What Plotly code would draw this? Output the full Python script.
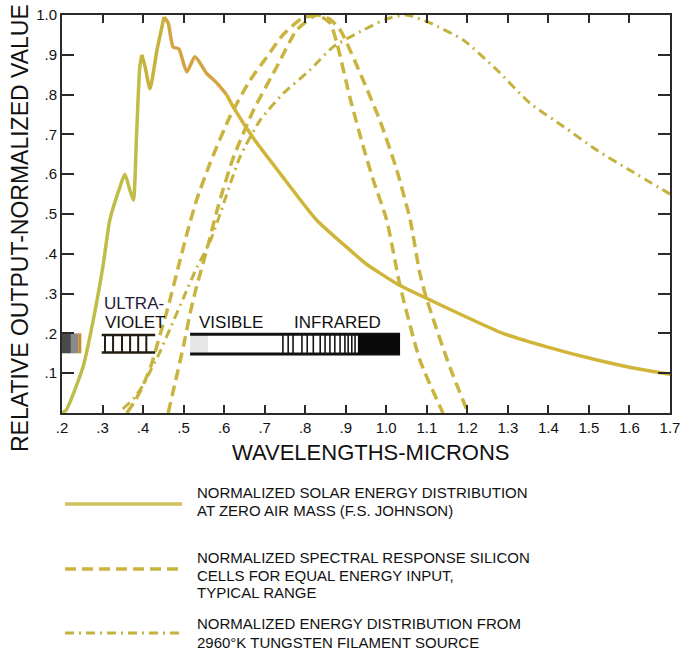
import plotly.graph_objects as go

# ---------------- data ----------------
solar_x = [0.2, 0.21, 0.252, 0.277, 0.302, 0.318, 0.343, 0.355, 0.366, 0.376, 0.384, 0.392, 0.397,
           0.405, 0.417, 0.434, 0.452, 0.462, 0.474, 0.488, 0.508, 0.528, 0.557, 0.581, 0.606,
           0.622, 0.676, 0.738, 0.828, 0.911, 0.95, 1.026, 1.083, 1.2, 1.288, 1.396, 1.52, 1.6, 1.7]
solar_y = [0.0, 0.007, 0.116, 0.233, 0.375, 0.485, 0.568, 0.60, 0.565, 0.535, 0.70, 0.87, 0.90,
           0.87, 0.815, 0.91, 0.995, 0.98, 0.92, 0.915, 0.857, 0.895, 0.853, 0.83, 0.80,
           0.77, 0.685, 0.602, 0.485, 0.409, 0.375, 0.325, 0.296, 0.24, 0.20, 0.166, 0.133, 0.115, 0.097]

siA_x = [0.36, 0.38, 0.40, 0.42, 0.44, 0.46, 0.487, 0.508, 0.532, 0.565, 0.614, 0.664, 0.705,
         0.745, 0.79, 0.83, 0.861, 0.878, 0.911, 0.943, 0.968, 1.001, 1.034, 1.083, 1.14]
siA_y = [0.0, 0.03, 0.07, 0.12, 0.19, 0.26, 0.367, 0.45, 0.535, 0.627, 0.744, 0.836, 0.894,
         0.95, 0.99, 1.0, 0.98, 0.93, 0.79, 0.67, 0.585, 0.485, 0.32, 0.133, 0.0]

siB_x = [0.462, 0.48, 0.50, 0.516, 0.53, 0.548, 0.565, 0.58, 0.597, 0.622, 0.672, 0.73, 0.779,
         0.828, 0.86, 0.886, 0.943, 0.985, 1.026, 1.059, 1.083, 1.1, 1.157, 1.202]
siB_y = [0.0, 0.08, 0.17, 0.25, 0.31, 0.376, 0.44, 0.50, 0.56, 0.64, 0.76, 0.87, 0.962,
         1.0, 0.99, 0.963, 0.836, 0.733, 0.61, 0.485, 0.35, 0.285, 0.115, 0.0]

tung_x = [0.35, 0.38, 0.40, 0.42, 0.44, 0.47, 0.50, 0.53, 0.565, 0.59, 0.639, 0.689, 0.746,
          0.812, 0.869, 0.943, 1.0, 1.05, 1.108, 1.19, 1.273, 1.355, 1.437, 1.52, 1.601, 1.7]
tung_y = [0.01, 0.04, 0.07, 0.11, 0.15, 0.22, 0.29, 0.36, 0.43, 0.50, 0.643, 0.736, 0.803,
          0.862, 0.92, 0.962, 0.99, 1.0, 0.98, 0.937, 0.862, 0.778, 0.72, 0.66, 0.61, 0.55]

x_tickvals = [0.2, 0.3, 0.4, 0.5, 0.6, 0.7, 0.8, 0.9, 1.0, 1.1, 1.2, 1.3, 1.4, 1.5, 1.6, 1.7]
x_ticktext = [".2", ".3", ".4", ".5", ".6", ".7", ".8", ".9", "1.0", "1.1", "1.2", "1.3",
              "1.4", "1.5", "1.6", "1.7"]
y_tickvals = [0.1, 0.2, 0.3, 0.4, 0.5, 0.6, 0.7, 0.8, 0.9, 1.0]
y_ticktext = [".1", ".2", ".3", ".4", ".5", ".6", ".7", ".8", ".9", "1.0"]

# spectrum band decoration (wavelength positions)
uv_bars = [0.306, 0.326, 0.348, 0.368, 0.388, 0.408]
ir_bars = [0.745, 0.758, 0.77, 0.792, 0.805, 0.82, 0.837, 0.849, 0.861, 0.873, 0.886,
           0.898, 0.906, 0.915, 0.923]

legend_lines = [
    ["NORMALIZED SOLAR ENERGY DISTRIBUTION", "AT ZERO AIR MASS (F.S. JOHNSON)"],
    ["NORMALIZED SPECTRAL RESPONSE SILICON", "CELLS FOR EQUAL ENERGY INPUT,", "TYPICAL RANGE"],
    ["NORMALIZED ENERGY DISTRIBUTION FROM", "2960\u00b0K TUNGSTEN FILAMENT SOURCE"],
]

# ---------------- figure ----------------
W, H = 682, 652
ML, MR, MT, MB = 62, 12, 15, 239
PW, PH = W - ML - MR, H - MT - MB


def px_x(p):
    return (p - ML) / PW


def px_y(p):
    return (H - MB - p) / PH


FONT = "Liberation Sans, Arial, sans-serif"
SOLAR_C = "#d0b53a"
SI_C = "#c9b440"
TUNG_C = "#c4b23e"
TXT_C = "#111111"

fig = go.Figure()
# solar curve drawn in colour-shifted pieces (as the printed original fades in hue)
solar_pieces = [(0, 13, "#bfbd48"), (12, 17, "#c8b23e"), (16, 25, "#d4a444"), (24, len(solar_x), SOLAR_C)]
for a, b, c in solar_pieces:
    fig.add_trace(go.Scatter(x=solar_x[a:b], y=solar_y[a:b], mode="lines",
                             line=dict(color=c, width=3.5, shape="spline", smoothing=0.6),
                             showlegend=False, hoverinfo="skip"))
fig.add_trace(go.Scatter(x=siA_x, y=siA_y, mode="lines",
                         line=dict(color=SI_C, width=3.5, dash="11px,6px", shape="spline", smoothing=0.6),
                         showlegend=False))
fig.add_trace(go.Scatter(x=siB_x, y=siB_y, mode="lines",
                         line=dict(color=SI_C, width=3.5, dash="11px,6px", shape="spline", smoothing=0.6),
                         showlegend=False))
fig.add_trace(go.Scatter(x=tung_x, y=tung_y, mode="lines",
                         line=dict(color=TUNG_C, width=3, dash="9px,5px,2px,5px", shape="spline", smoothing=0.6),
                         showlegend=False))

shapes = []
# left UV grey block
shapes.append(dict(type="rect", xref="x", yref="y", x0=0.2, x1=0.222, y0=0.15, y1=0.20,
                   fillcolor="#4a4a4a", line=dict(width=0), layer="below"))
shapes.append(dict(type="rect", xref="x", yref="y", x0=0.222, x1=0.241, y0=0.15, y1=0.20,
                   fillcolor="#8a8a8a", line=dict(width=0), layer="below"))
shapes.append(dict(type="line", xref="x", yref="y", x0=0.244, x1=0.244, y0=0.15, y1=0.20,
                   line=dict(color="#c8902a", width=3), layer="below"))
# UV ladder
for yy in (0.196, 0.152):
    shapes.append(dict(type="line", xref="x", yref="y", x0=0.298, x1=0.43, y0=yy, y1=yy,
                       line=dict(color="#221c12", width=2.5)))
for xb in uv_bars:
    shapes.append(dict(type="line", xref="x", yref="y", x0=xb, x1=xb, y0=0.152, y1=0.196,
                       line=dict(color="#221c12", width=2)))
# visible / infrared band
shapes.append(dict(type="rect", xref="x", yref="y", x0=0.516, x1=0.56, y0=0.148, y1=0.198,
                   fillcolor="#e6e6e6", line=dict(width=0), layer="below"))
for yy in (0.198, 0.148):
    shapes.append(dict(type="line", xref="x", yref="y", x0=0.516, x1=1.034, y0=yy, y1=yy,
                       line=dict(color="#111111", width=3)))
for xb in ir_bars:
    shapes.append(dict(type="line", xref="x", yref="y", x0=xb, x1=xb, y0=0.148, y1=0.198,
                       line=dict(color="#151515", width=1.6)))
shapes.append(dict(type="rect", xref="x", yref="y", x0=0.93, x1=1.034, y0=0.148, y1=0.198,
                   fillcolor="#0a0a0a", line=dict(width=0)))

# legend sample lines
leg_y = [504, 569, 633]
leg_styles = [dict(color="#d2c15a", width=3.5),
              dict(color=SI_C, width=3.5, dash="11px,6px"),
              dict(color=TUNG_C, width=3, dash="9px,5px,2px,5px")]
for yy, st in zip(leg_y, leg_styles):
    shapes.append(dict(type="line", xref="paper", yref="paper", x0=px_x(65), x1=px_x(182),
                       y0=px_y(yy), y1=px_y(yy), line=st))

annotations = []
# band labels
band_labels = [("ULTRA-", 0.378, 0.275, "#2a1a3a"), ("VIOLET", 0.38, 0.228, TXT_C),
               ("VISIBLE", 0.617, 0.228, TXT_C), ("INFRARED", 0.879, 0.228, TXT_C)]
for t, xx, yy, c in band_labels:
    annotations.append(dict(text=t, x=xx, y=yy, xref="x", yref="y", showarrow=False,
                            xanchor="center", yanchor="middle",
                            font=dict(family=FONT, size=17, color=c)))
# axis titles
annotations.append(dict(text="WAVELENGTHS-MICRONS", x=px_x(370), y=px_y(452), xref="paper",
                        yref="paper", showarrow=False, xanchor="center", yanchor="middle",
                        font=dict(family=FONT, size=22, color=TXT_C)))
annotations.append(dict(text="RELATIVE OUTPUT-NORMALIZED VALUE", x=px_x(20), y=px_y(228),
                        xref="paper", yref="paper", showarrow=False, textangle=-90,
                        xanchor="center", yanchor="middle",
                        font=dict(family=FONT, size=23, color=TXT_C)))
# legend texts
leg_text_y = [[492, 510], [557, 575, 592], [623, 642]]
for lines, ys in zip(legend_lines, leg_text_y):
    for t, yy in zip(lines, ys):
        annotations.append(dict(text=t, x=px_x(195), y=px_y(yy), xref="paper", yref="paper",
                                xanchor="left", yanchor="middle", showarrow=False,
                                font=dict(family=FONT, size=15, color=TXT_C)))

axis_common = dict(showgrid=False, zeroline=False, showline=True, linecolor="#2a2a2a",
                   linewidth=2, mirror="ticks", ticks="inside", tickcolor="#2a2a2a",
                   tickwidth=2, automargin=False, ticklabelposition="outside",
                   tickfont=dict(family=FONT, size=15, color=TXT_C))

fig.update_layout(
    width=W, height=H, margin=dict(l=ML, r=MR, t=MT, b=MB, autoexpand=False),
    paper_bgcolor="white", plot_bgcolor="white", showlegend=False,
    xaxis=dict(range=[0.2, 1.7], tickvals=x_tickvals, ticktext=x_ticktext, ticklen=8,
               **axis_common),
    yaxis=dict(range=[0, 1.0], tickvals=y_tickvals, ticktext=y_ticktext, ticklen=12,
               **axis_common),
    shapes=shapes, annotations=annotations,
)

fig.write_html("out.html", config={"displayModeBar": False},
               post_script="document.body.style.margin='0';document.body.style.padding='0';")
